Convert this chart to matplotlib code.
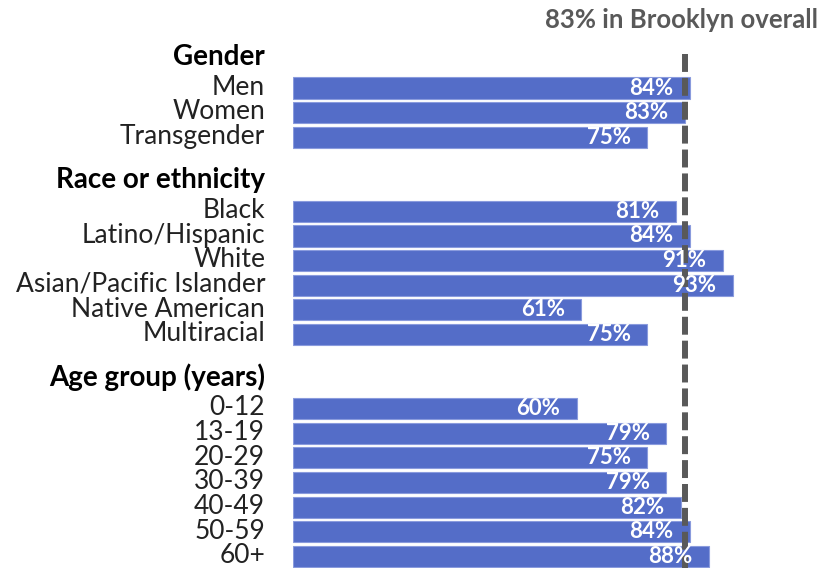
import matplotlib.pyplot as plt

plt.rcParams['font.family'] = ['Lato', 'DejaVu Sans']

groups = ['Gender', 'Race or ethnicity', 'Age group (years)']
gender_labels = ['Men', 'Women', 'Transgender']
gender_values = [84, 83, 75]
race_labels = ['Black', 'Latino/Hispanic', 'White', 'Asian/Pacific Islander',
               'Native American', 'Multiracial']
race_values = [81, 84, 91, 93, 61, 75]
age_labels = ['0-12', '13-19', '20-29', '30-39', '40-49', '50-59', '60+']
age_values = [60, 79, 75, 79, 82, 84, 88]
overall = 83

sections = [(groups[0], gender_labels, gender_values),
            (groups[1], race_labels, race_values),
            (groups[2], age_labels, age_values)]

bar_color = '#546DC8'
line_color = '#595959'

fig = plt.figure(figsize=(8.24, 5.68), dpi=100)
ax = fig.add_axes([293 / 824, 0, 472.6 / 824, 1])
ax.set_xlim(0, 100)
ax.set_ylim(19.47, -3.57)
ax.axis('off')

row = 0
for name, labels, values in sections:
    ax.text(-5.9, row - 1.25, name, ha='right', va='center', fontsize=20,
            fontweight='bold', color='black')
    for lab, val in zip(labels, values):
        ax.barh(row, val, height=0.86, color=bar_color,
                edgecolor='#8A9BDD', linewidth=0.8, zorder=2)
        ax.text(-5.9, row - 0.03, lab, ha='right', va='center', fontsize=19,
                color='#222222')
        ax.text(val - 3.5, row, f'{val}%', ha='right', va='center',
                fontsize=16, fontweight='bold', color='white', zorder=4)
        row += 1
    row += 2

ax.plot([overall, overall], [-1.38, 19.47], color=line_color, lw=4.3,
        dashes=(3, 1), zorder=3, clip_on=False)

fig.text(818 / 824, 1 - 20 / 568, f'{overall}% in Brooklyn overall',
         ha='right', va='center', fontsize=18.5, fontweight='bold',
         color=line_color)

fig.savefig('out.png', dpi=100)
